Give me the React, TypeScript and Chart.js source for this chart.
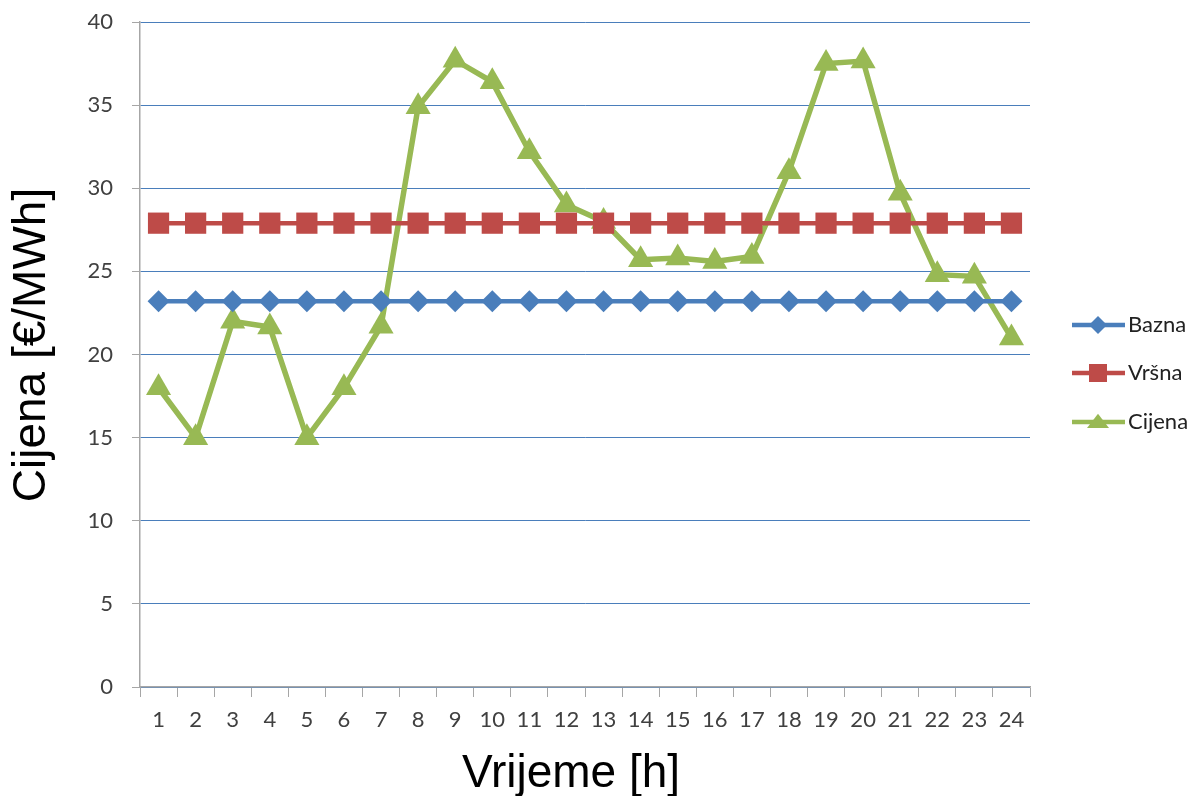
import React, { useEffect, useRef } from "react";
import { Chart, registerables } from "chart.js";

Chart.register(...registerables);

const hours = ["1","2","3","4","5","6","7","8","9","10","11","12","13","14","15","16","17","18","19","20","21","22","23","24"];
const bazna = [23.2,23.2,23.2,23.2,23.2,23.2,23.2,23.2,23.2,23.2,23.2,23.2,23.2,23.2,23.2,23.2,23.2,23.2,23.2,23.2,23.2,23.2,23.2,23.2];
const vrsna = [27.9,27.9,27.9,27.9,27.9,27.9,27.9,27.9,27.9,27.9,27.9,27.9,27.9,27.9,27.9,27.9,27.9,27.9,27.9,27.9,27.9,27.9,27.9,27.9];
const cijena = [18.0,15.0,22.0,21.65,15.0,18.0,21.7,34.9,37.7,36.4,32.2,29.0,28.0,25.7,25.8,25.6,25.9,31.0,37.5,37.65,29.7,24.8,24.7,21.0];

const TICK_FONT = 'Lato, "Open Sans", sans-serif';
const TITLE_FONT = '"Liberation Sans", Arial, sans-serif';
const BLUE = "#4a7ebb";
const RED = "#be4b48";
const GREEN = "#98b954";

function drawMarker(ctx: CanvasRenderingContext2D, style: string, x: number, y: number, r: number, color: string) {
  ctx.save();
  ctx.fillStyle = color;
  ctx.beginPath();
  if (style === "rectRot") {
    ctx.moveTo(x, y - r);
    ctx.lineTo(x + r, y);
    ctx.lineTo(x, y + r);
    ctx.lineTo(x - r, y);
  } else if (style === "rect") {
    ctx.rect(x - r, y - r, r * 2, r * 2);
  } else {
    ctx.moveTo(x, y - r * 0.75);
    ctx.lineTo(x + r, y + r * 0.55);
    ctx.lineTo(x - r, y + r * 0.55);
  }
  ctx.closePath();
  ctx.fill();
  ctx.restore();
}

const customPlugin = {
  id: "customDecor",
  afterDraw(chart: any) {
    const ctx: CanvasRenderingContext2D = chart.ctx;
    // axis titles
    ctx.save();
    ctx.fillStyle = "#000";
    ctx.font = `46px ${TITLE_FONT}`;
    ctx.textAlign = "center";
    ctx.textBaseline = "alphabetic";
    ctx.fillText("Vrijeme [h]", 571, 787);
    ctx.translate(45, 345);
    ctx.rotate(-Math.PI / 2);
    ctx.fillText("Cijena [€/MWh]", 0, 0);
    ctx.restore();
    // legend
    const rows = [325, 373, 422];
    chart.data.datasets.forEach((ds: any, i: number) => {
      const y = rows[i];
      ctx.save();
      ctx.strokeStyle = ds.borderColor;
      ctx.lineWidth = 4.5;
      ctx.beginPath();
      ctx.moveTo(1072, y);
      ctx.lineTo(1125, y);
      ctx.stroke();
      const r = ds.pointStyle === "triangle" ? 11 : 9;
      drawMarker(ctx, ds.pointStyle, 1098, y, r, ds.borderColor);
      ctx.fillStyle = "#222";
      ctx.font = `22px ${TICK_FONT}`;
      ctx.textAlign = "left";
      ctx.textBaseline = "middle";
      ctx.fillText(ds.label, 1128, y);
      ctx.restore();
    });
  },
};

export default function App() {
  const ref = useRef<HTMLCanvasElement | null>(null);
  useEffect(() => {
    if (!ref.current) return;
    const chart = new Chart(ref.current, {
      type: "line",
      data: {
        labels: hours,
        datasets: [
          {
            label: "Bazna",
            data: bazna,
            borderColor: BLUE,
            backgroundColor: BLUE,
            borderWidth: 4.5,
            pointStyle: "rectRot",
            pointRadius: 11,
            pointBorderWidth: 0,
            pointBackgroundColor: BLUE,
          },
          {
            label: "Vršna",
            data: vrsna,
            borderColor: RED,
            backgroundColor: RED,
            borderWidth: 4.5,
            pointStyle: "rect",
            pointRadius: 15,
            pointBorderWidth: 0,
            pointBackgroundColor: RED,
          },
          {
            label: "Cijena",
            data: cijena,
            borderColor: GREEN,
            backgroundColor: GREEN,
            borderWidth: 5.5,
            pointStyle: "triangle",
            pointRadius: 14.5,
            pointBorderWidth: 0,
            pointBackgroundColor: GREEN,
          },
        ],
      },
      options: {
        animation: false,
        responsive: false,
        maintainAspectRatio: false,
        layout: { padding: { left: 0, right: 170, top: 22, bottom: 0 } },
        plugins: { legend: { display: false }, tooltip: { enabled: false } },
        scales: {
          x: {
            offset: true,
            grid: {
              offset: true,
              drawOnChartArea: false,
              drawTicks: true,
              tickLength: 10,
              tickColor: "#a6a6a6",
            },
            border: { color: "#a6a6a6", width: 1.5 },
            ticks: {
              color: "#404040",
              font: { family: TICK_FONT, size: 22 },
              padding: 10,
              maxRotation: 0,
              autoSkip: false,
            },
            afterFit(scale: any) {
              scale.height = 109;
            },
          },
          y: {
            min: 0,
            max: 40,
            ticks: {
              stepSize: 5,
              color: "#404040",
              font: { family: TICK_FONT, size: 22 },
              padding: 19,
            },
            grid: {
              color: BLUE,
              lineWidth: 1,
              tickLength: 8,
              tickColor: "#a6a6a6",
            },
            border: { color: "#a6a6a6", width: 1.5 },
            afterFit(scale: any) {
              scale.width = 140;
              scale.paddingTop = 0;
              scale.paddingBottom = 0;
            },
          },
        },
      },
      plugins: [customPlugin],
    });
    return () => chart.destroy();
  }, []);
  return (
    <div style={{ position: "fixed", left: 0, top: 0, width: 1200, height: 796, background: "#fff" }}>
      <canvas ref={ref} width={1200} height={796} style={{ width: 1200, height: 796 }} />
    </div>
  );
}
